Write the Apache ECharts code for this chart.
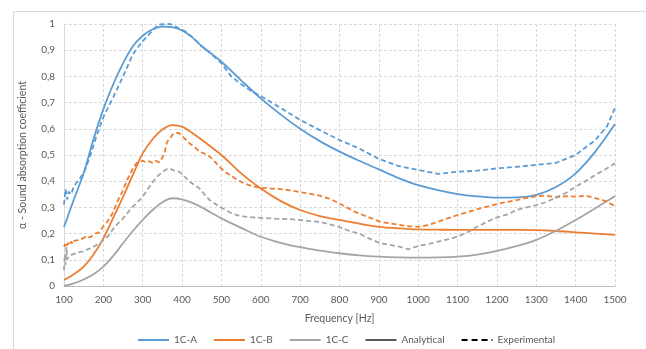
<!DOCTYPE html>
<html>
<head>
<meta charset="utf-8">
<title>Sound absorption coefficient</title>
<script src="https://cdn.jsdelivr.net/npm/echarts@6/dist/echarts.min.js"></script>
<style>
  html, body { margin: 0; padding: 0; background: #fff; }
  #main { width: 646px; height: 349px; }
</style>
</head>
<body>
<div id="main"></div>
<script>
  // frequency axis ticks [Hz]
  var freqTicks = [100, 200, 300, 400, 500, 600, 700, 800, 900, 1000, 1100, 1200, 1300, 1400, 1500];
  var legendNames = ['1C-A', '1C-B', '1C-C', 'Analytical', 'Experimental'];

  // analytical model, sampled at these frequencies
  var freqAnalytical = [100, 125, 150, 175, 200, 225, 250, 275, 300, 325, 350, 375, 400, 425, 450, 500, 550, 600,
    650, 700, 750, 800, 850, 900, 950, 1000, 1050, 1100, 1150, 1200, 1250, 1300, 1350, 1400, 1450, 1500];
  var analyticalA = [0.225, 0.33, 0.43, 0.56, 0.675, 0.77, 0.85, 0.915, 0.955, 0.98, 0.99, 0.988, 0.975, 0.95, 0.915, 0.856, 0.785, 0.716,
    0.655, 0.60, 0.553, 0.513, 0.478, 0.445, 0.412, 0.385, 0.366, 0.351, 0.342, 0.337, 0.338, 0.348, 0.378, 0.43, 0.513, 0.618];
  var analyticalB = [0.023, 0.045, 0.074, 0.12, 0.182, 0.26, 0.34, 0.425, 0.506, 0.56, 0.597, 0.614, 0.608, 0.585, 0.558, 0.50, 0.43, 0.372,
    0.325, 0.29, 0.267, 0.252, 0.238, 0.226, 0.22, 0.216, 0.215, 0.214, 0.214, 0.214, 0.214, 0.213, 0.21, 0.205, 0.2, 0.195];
  var analyticalC = [0.0, 0.01, 0.025, 0.045, 0.074, 0.115, 0.163, 0.21, 0.252, 0.29, 0.32, 0.335, 0.331, 0.318, 0.30, 0.258, 0.222, 0.188,
    0.165, 0.148, 0.135, 0.125, 0.117, 0.112, 0.109, 0.108, 0.109, 0.112, 0.12, 0.134, 0.152, 0.176, 0.211, 0.252, 0.297, 0.343];

  // measurements (impedance tube), [freq, alpha]
  var experimentalA = [[100, 0.31], [104, 0.37], [108, 0.33], [112, 0.36], [118, 0.35], [125, 0.38], [135, 0.40], [150, 0.43],
    [165, 0.49], [180, 0.56], [200, 0.645], [225, 0.72], [250, 0.80], [275, 0.885], [300, 0.935], [325, 0.975], [340, 0.998],
    [370, 1.0], [390, 0.985], [410, 0.97], [430, 0.945], [450, 0.915], [475, 0.885], [500, 0.85], [525, 0.80], [550, 0.77],
    [575, 0.745], [600, 0.725], [650, 0.68], [700, 0.634], [750, 0.595], [800, 0.557], [850, 0.525], [900, 0.485], [950, 0.458],
    [1000, 0.443], [1050, 0.428], [1100, 0.436], [1150, 0.44], [1200, 0.449], [1250, 0.455], [1300, 0.462], [1350, 0.47],
    [1400, 0.50], [1450, 0.557], [1480, 0.61], [1500, 0.68]];
  var experimentalB = [[100, 0.15], [103, 0.16], [106, 0.148], [110, 0.165], [114, 0.155], [118, 0.17], [122, 0.16], [126, 0.172],
    [130, 0.165], [135, 0.175], [140, 0.168], [145, 0.18], [150, 0.185], [158, 0.19], [165, 0.185], [172, 0.192], [180, 0.2],
    [190, 0.205], [200, 0.228], [212, 0.25], [223, 0.277], [235, 0.32], [250, 0.366], [262, 0.41], [275, 0.449], [285, 0.47],
    [292, 0.474], [300, 0.478], [308, 0.472], [317, 0.476], [325, 0.47], [333, 0.478], [342, 0.472], [350, 0.49], [356, 0.51],
    [362, 0.55], [370, 0.565], [376, 0.578], [385, 0.585], [393, 0.583], [405, 0.565], [419, 0.545], [432, 0.53], [444, 0.513],
    [457, 0.505], [470, 0.494], [483, 0.475], [495, 0.455], [510, 0.435], [525, 0.42], [540, 0.405], [560, 0.39], [580, 0.38],
    [600, 0.375], [625, 0.372], [650, 0.37], [675, 0.365], [700, 0.358], [725, 0.352], [750, 0.345], [780, 0.33], [800, 0.315],
    [836, 0.285], [875, 0.262], [903, 0.245], [925, 0.24], [952, 0.233], [975, 0.228], [1000, 0.226], [1025, 0.232],
    [1050, 0.245], [1075, 0.258], [1100, 0.271], [1150, 0.293], [1200, 0.313], [1250, 0.328], [1300, 0.343], [1325, 0.345],
    [1350, 0.338], [1375, 0.343], [1400, 0.341], [1425, 0.345], [1450, 0.335], [1475, 0.325], [1500, 0.305]];
  var experimentalC = [[100, 0.06], [102, 0.12], [104, 0.08], [106, 0.15], [108, 0.1], [112, 0.112], [116, 0.105], [120, 0.12],
    [125, 0.115], [130, 0.125], [135, 0.12], [140, 0.13], [145, 0.125], [150, 0.131], [160, 0.14], [170, 0.145], [180, 0.155],
    [190, 0.16], [200, 0.176], [212, 0.19], [223, 0.214], [235, 0.235], [250, 0.258], [262, 0.28], [275, 0.303], [287, 0.32],
    [300, 0.341], [313, 0.37], [326, 0.398], [338, 0.42], [351, 0.436], [360, 0.445], [368, 0.449], [380, 0.44], [393, 0.436],
    [405, 0.42], [419, 0.398], [432, 0.385], [444, 0.373], [457, 0.35], [470, 0.328], [483, 0.315], [495, 0.303], [510, 0.29],
    [525, 0.278], [540, 0.27], [560, 0.265], [580, 0.262], [600, 0.26], [625, 0.258], [650, 0.256], [675, 0.255], [700, 0.252],
    [725, 0.248], [750, 0.245], [775, 0.235], [800, 0.225], [825, 0.21], [850, 0.2], [875, 0.182], [903, 0.163], [925, 0.158],
    [952, 0.15], [975, 0.14], [1000, 0.153], [1025, 0.16], [1050, 0.169], [1075, 0.178], [1100, 0.188], [1125, 0.205],
    [1150, 0.226], [1175, 0.245], [1200, 0.262], [1225, 0.272], [1250, 0.29], [1275, 0.3], [1300, 0.309], [1325, 0.32],
    [1350, 0.338], [1375, 0.355], [1400, 0.379], [1425, 0.4], [1450, 0.424], [1475, 0.445], [1500, 0.468]];

  var colors = { a: '#5B9BD5', b: '#ED7D31', c: '#A5A5A5' };
  var textColor = '#595959';
  var font = 'Lato, "Liberation Sans", sans-serif';

  function pairs(xs, ys) {
    return xs.map(function (x, i) {
      return [x, ys[i]];
    });
  }

  function solid(name, color, data) {
    return {
      name: name, type: 'line', data: data, smooth: 0.3, symbol: 'none',
      lineStyle: { color: color, width: 1.8 }, itemStyle: { color: color }
    };
  }

  function dashed(name, color, data) {
    return {
      name: name, type: 'line', data: data, symbol: 'none',
      lineStyle: { color: color, width: 1.8, type: [5, 3] }, itemStyle: { color: color }
    };
  }

  var myChart = echarts.init(document.getElementById('main'));
  var option = {
    animation: false,
    backgroundColor: '#fff',
    textStyle: { fontFamily: font },
    graphic: [{
      type: 'rect', left: 11, top: 9,
      shape: { width: 700, height: 400 },
      style: { fill: 'none', stroke: '#D9D9D9', lineWidth: 1 }
    }],
    grid: { left: 64, right: 31, top: 24, bottom: 63 },
    legend: {
      left: 132, top: 330,
      itemWidth: 31, itemHeight: 10, itemGap: 16,
      data: legendNames,
      itemStyle: { opacity: 0 },   // line only, no marker dot
      textStyle: { color: textColor, fontSize: 10, fontFamily: font }
    },
    xAxis: {
      type: 'value', min: freqTicks[0], max: freqTicks[freqTicks.length - 1], interval: 100,
      name: 'Frequency [Hz]', nameLocation: 'middle', nameGap: 27,
      nameTextStyle: { color: textColor, fontSize: 10.5 },
      axisLine: { lineStyle: { color: '#BFBFBF' } },
      axisTick: { show: false },
      axisLabel: {
        color: textColor, fontSize: 10, margin: 9,
        formatter: function (v) { return String(v); }
      },
      splitLine: { lineStyle: { color: '#D9D9D9', type: [3, 2] } }
    },
    yAxis: {
      type: 'value', min: 0, max: 1, interval: 0.1,
      name: 'α - Sound absorption coefficient', nameLocation: 'middle', nameGap: 36,
      nameTextStyle: { color: textColor, fontSize: 10.5 },
      axisLine: { show: true, lineStyle: { color: '#D9D9D9' } },
      axisTick: { show: false },
      axisLabel: {
        color: textColor, fontSize: 10, margin: 9,
        formatter: function (v) { return String(Math.round(v * 10) / 10).replace('.', ','); }
      },
      splitLine: { lineStyle: { color: '#D9D9D9', type: [3, 2] } }
    },
    series: [
      solid('1C-A', colors.a, pairs(freqAnalytical, analyticalA)),
      solid('1C-B', colors.b, pairs(freqAnalytical, analyticalB)),
      solid('1C-C', colors.c, pairs(freqAnalytical, analyticalC)),
      dashed('1C-A', colors.a, experimentalA),
      dashed('1C-B', colors.b, experimentalB),
      dashed('1C-C', colors.c, experimentalC),
      // legend-only entries for the line style key
      solid('Analytical', '#595959', []),
      {
        name: 'Experimental', type: 'line', data: [], symbol: 'none',
        lineStyle: { color: '#000', width: 2, type: [6, 4] }, itemStyle: { color: '#000' }
      }
    ]
  };
  myChart.setOption(option);
</script>
</body>
</html>
